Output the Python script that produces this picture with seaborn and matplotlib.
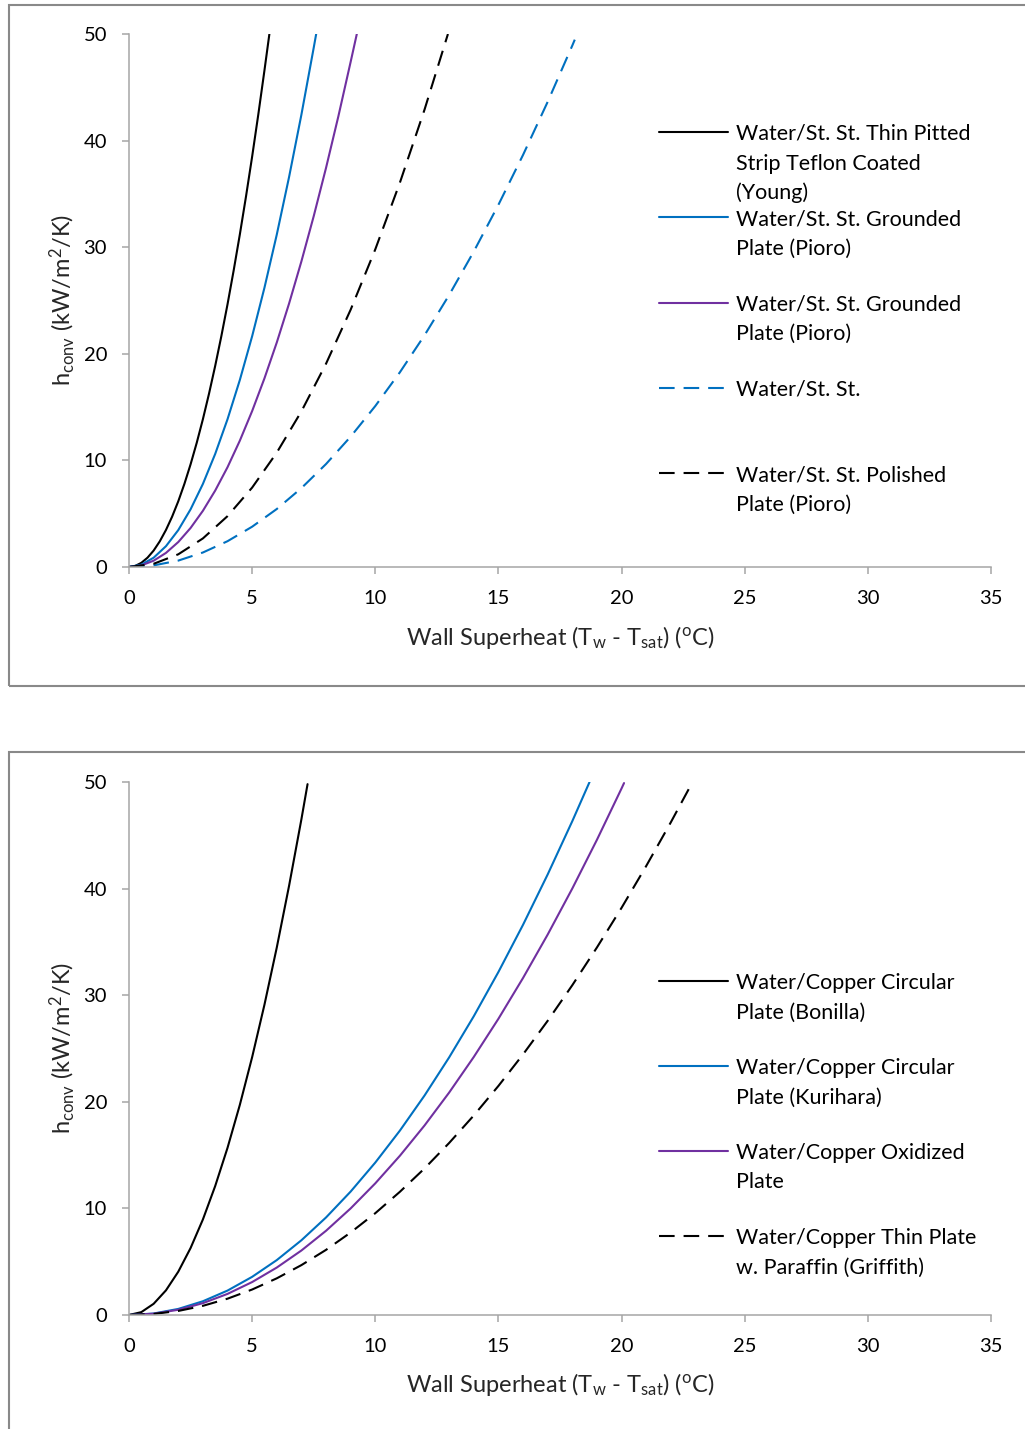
import matplotlib
matplotlib.use("Agg")
import matplotlib.pyplot as plt
import seaborn as sns
import pandas as pd
from matplotlib.lines import Line2D
from matplotlib.patches import Rectangle

# ---------------- data ----------------
# Top panel: water / stainless steel
young_x = [0, 0.25, 0.5, 0.75, 1, 1.25, 1.5, 1.75, 2, 2.25, 2.5, 2.75, 3, 3.25, 3.5, 3.75,
           4, 4.25, 4.5, 4.75, 5, 5.25, 5.5, 5.7]
young_y = [0, 0.10, 0.39, 0.87, 1.54, 2.41, 3.47, 4.72, 6.16, 7.80, 9.63, 11.65, 13.86, 16.27,
           18.87, 21.66, 24.64, 27.82, 31.19, 34.75, 38.50, 42.45, 46.59, 50.0]

pioro_g1_x = [0, 0.5, 1, 1.5, 2, 2.5, 3, 3.5, 4, 4.5, 5, 5.5, 6, 6.5, 7, 7.5, 7.6]
pioro_g1_y = [0, 0.22, 0.87, 1.95, 3.46, 5.41, 7.79, 10.61, 13.86, 17.54, 21.65, 26.20, 31.18,
              36.59, 42.43, 48.71, 50.0]

pioro_g2_x = [0, 0.5, 1, 1.5, 2, 2.5, 3, 3.5, 4, 4.5, 5, 5.5, 6, 6.5, 7, 7.5, 8, 8.5, 9, 9.25]
pioro_g2_y = [0, 0.15, 0.59, 1.32, 2.34, 3.66, 5.27, 7.17, 9.36, 11.85, 14.63, 17.70, 21.06,
              24.72, 28.67, 32.91, 37.44, 42.27, 47.39, 50.0]

ss_x = [0, 1, 2, 3, 4, 5, 6, 7, 8, 9, 10, 11, 12, 13, 14, 15, 16, 17, 18, 18.1]
ss_y = [0, 0.15, 0.60, 1.36, 2.42, 3.78, 5.44, 7.40, 9.66, 12.23, 15.10, 18.27, 21.74, 25.52,
        29.60, 33.98, 38.66, 43.64, 48.92, 49.47]

polished_x = [0, 1, 2, 3, 4, 5, 6, 7, 8, 9, 10, 11, 12, 12.95]
polished_y = [0, 0.30, 1.19, 2.68, 4.77, 7.45, 10.73, 14.60, 19.07, 24.14, 29.80, 36.06, 42.91, 50.0]

# Bottom panel: water / copper
bonilla_x = [0, 0.5, 1, 1.5, 2, 2.5, 3, 3.5, 4, 4.5, 5, 5.5, 6, 6.5, 7, 7.25]
bonilla_y = [0, 0.27, 1.05, 2.31, 4.06, 6.28, 8.96, 12.10, 15.68, 19.71, 24.19, 29.11, 34.47,
             40.27, 46.50, 49.8]

kurihara_x = [0, 1, 2, 3, 4, 5, 6, 7, 8, 9, 10, 11, 12, 13, 14, 15, 16, 17, 18, 18.7]
kurihara_y = [0, 0.14, 0.57, 1.29, 2.29, 3.58, 5.15, 7.01, 9.15, 11.58, 14.30, 17.30, 20.59,
              24.17, 28.03, 32.18, 36.61, 41.33, 46.33, 50.0]

oxidized_x = [0, 1, 2, 3, 4, 5, 6, 7, 8, 9, 10, 11, 12, 13, 14, 15, 16, 17, 18, 19, 20, 20.1]
oxidized_y = [0, 0.12, 0.49, 1.11, 1.98, 3.09, 4.45, 6.05, 7.90, 10.00, 12.35, 14.94, 17.78,
              20.87, 24.21, 27.79, 31.62, 35.69, 40.01, 44.58, 49.40, 49.9]

griffith_x = [0, 1, 2, 3, 4, 5, 6, 7, 8, 9, 10, 11, 12, 13, 14, 15, 16, 17, 18, 19, 20, 21, 22, 22.85]
griffith_y = [0, 0.10, 0.38, 0.86, 1.53, 2.39, 3.44, 4.68, 6.11, 7.74, 9.55, 11.56, 13.75, 16.14,
              18.72, 21.49, 24.45, 27.60, 30.94, 34.48, 38.20, 42.12, 46.22, 49.86]

top_labels = ["Water/St. St. Thin Pitted\nStrip Teflon Coated\n(Young)",
              "Water/St. St. Grounded\nPlate (Pioro)",
              "Water/St. St. Grounded\nPlate (Pioro)",
              "Water/St. St.",
              "Water/St. St. Polished\nPlate (Pioro)"]
bottom_labels = ["Water/Copper Circular\nPlate (Bonilla)",
                 "Water/Copper Circular\nPlate (Kurihara)",
                 "Water/Copper Oxidized\nPlate",
                 "Water/Copper Thin Plate\nw. Paraffin (Griffith)"]

x_ticks = [0, 5, 10, 15, 20, 25, 30, 35]
y_ticks = [0, 10, 20, 30, 40, 50]

BLACK = "#000000"
BLUE = "#0070C0"
PURPLE = "#7030A0"
SOLID = "-"
DASH = (0, (7.5, 4.3))

top_series = [(young_x, young_y, BLACK, SOLID),
              (pioro_g1_x, pioro_g1_y, BLUE, SOLID),
              (pioro_g2_x, pioro_g2_y, PURPLE, SOLID),
              (ss_x, ss_y, BLUE, DASH),
              (polished_x, polished_y, BLACK, DASH)]
bottom_series = [(bonilla_x, bonilla_y, BLACK, SOLID),
                 (kurihara_x, kurihara_y, BLUE, SOLID),
                 (oxidized_x, oxidized_y, PURPLE, SOLID),
                 (griffith_x, griffith_y, BLACK, DASH)]

# ---------------- style ----------------
sns.set_theme(style="ticks")
FONT = "Lato"
plt.rcParams["font.family"] = [FONT, "DejaVu Sans"]
plt.rcParams["mathtext.fontset"] = "custom"
plt.rcParams["mathtext.rm"] = FONT
plt.rcParams["mathtext.it"] = FONT
TICK_FS = 14.5
LEG_FS = 15.5
LAB_FS = 17

W, H = 1025, 1429
fig = plt.figure(figsize=(W / 100, H / 100), dpi=100)
fig.patch.set_facecolor("white")


def fx(px):
    return px / W


def fy(py):
    return 1 - py / H


GRAY = "#a6a6a6"
LINE_W = 1.5


def make_panel(top_px, bottom_px, series, labels, leg_first, leg_step):
    ax = fig.add_axes([fx(129), fy(bottom_px), (991 - 129) / W, (bottom_px - top_px) / H])
    for xs, ys, col, ls in series:
        df = pd.DataFrame({"x": xs, "y": ys})
        sns.lineplot(data=df, x="x", y="y", ax=ax, color=col, linestyle=ls,
                     linewidth=LINE_W, estimator=None, sort=False)
    ax.set_xlim(0, 35)
    ax.set_ylim(0, 50)
    ax.set_xticks(x_ticks)
    ax.set_yticks(y_ticks)
    ax.set_xticklabels([str(t) for t in x_ticks])
    ax.set_yticklabels([str(t) for t in y_ticks])
    for s in ["top", "right"]:
        ax.spines[s].set_visible(False)
    for s in ["left", "bottom"]:
        ax.spines[s].set_color(GRAY)
        ax.spines[s].set_linewidth(1.1)
    ax.tick_params(axis="both", colors=GRAY, labelcolor="black", length=5.3, width=1.1,
                   labelsize=TICK_FS, direction="out")
    ax.tick_params(axis="y", pad=10.5)
    ax.tick_params(axis="x", pad=11.5)
    ax.set_facecolor("white")
    ax.set_xlabel(r"Wall Superheat (T$_{\mathregular{w}}$ - T$_{\mathregular{sat}}$) ($^{\mathregular{o}}$C)",
                  fontsize=LAB_FS)
    ax.set_ylabel(r"h$_{\mathregular{conv}}$ (kW/m$^{\mathregular{2}}$/K)", fontsize=LAB_FS)
    ax.xaxis.label.set_va("center")
    ax.yaxis.label.set_va("center")
    h_ax = bottom_px - top_px
    ax.xaxis.set_label_coords(0.5, -(637 - 567) / h_ax)
    ax.yaxis.set_label_coords((62 - 129) / 862, 0.5)
    # manual legend, Excel-like (handle aligned with first text line)
    for i, ((xs, ys, col, ls), lab) in enumerate(zip(series, labels)):
        py0 = leg_first + i * leg_step
        fig.add_artist(Line2D([fx(659), fx(728)], [fy(py0), fy(py0)], color=col,
                              linestyle=ls, linewidth=LINE_W))
        for j, line in enumerate(lab.split("\n")):
            fig.text(fx(736), fy(py0 + j * 29.5), line, fontsize=LEG_FS, ha="left",
                     va="center_baseline", color="black")
    return ax


ax1 = make_panel(34, 567, top_series, top_labels, 132, 85.25)
ax2 = make_panel(782, 1315, bottom_series, bottom_labels, 981, 85.0)
ax2.yaxis.set_label_coords((62 - 129) / 862, (1315 - 1048) / (1315 - 782))

# chart-area borders
fig.add_artist(Rectangle((fx(8.5), fy(686)), fx(1040) - fx(8.5), fy(5) - fy(686),
                         fill=False, edgecolor="#898989", linewidth=1.5))
fig.add_artist(Rectangle((fx(8.5), fy(1445)), fx(1040) - fx(8.5), fy(752) - fy(1445),
                         fill=False, edgecolor="#898989", linewidth=1.5))

fig.savefig("out.png", dpi=100, facecolor="white")
